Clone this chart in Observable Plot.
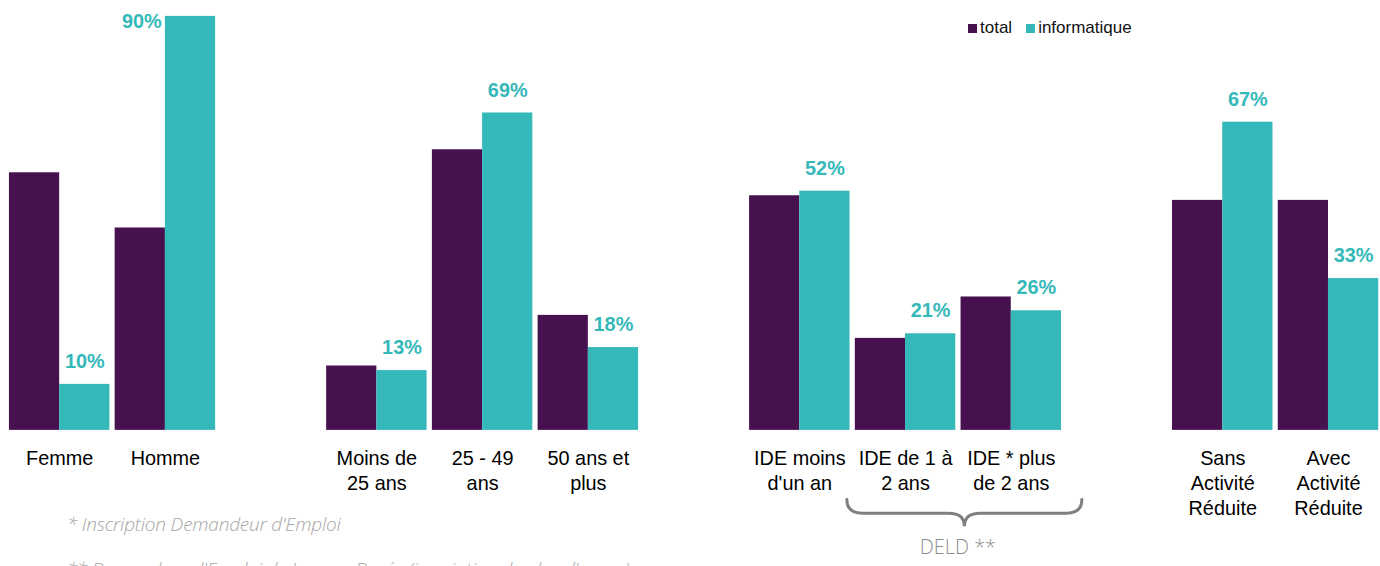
<!DOCTYPE html>
<html>
<head>
<meta charset="utf-8">
<script src="https://cdn.jsdelivr.net/npm/d3@7"></script>
<script src="https://cdn.jsdelivr.net/npm/@observablehq/plot@0.6"></script>
<style>
  html, body { margin: 0; padding: 0; background: #fff; overflow: hidden; }
  #wrap { position: relative; width: 1380px; height: 566px; overflow: hidden; font-family: "Liberation Sans", Arial, sans-serif; }
  #wrap svg.chart { position: absolute; left: 0; top: 0; }
  .legend { position: absolute; left: 968px; top: 18px; font-size: 17px; color: #111; display: flex; align-items: center; white-space: nowrap; }
  .legend .sw { display: inline-block; width: 9px; height: 9px; margin-right: 3px; }
  .legend .item { display: flex; align-items: center; margin-right: 14px; }
  .foot { position: absolute; left: 67px; font-family: "Open Sans", sans-serif; font-style: italic; font-weight: 300; font-size: 19px; color: #a6a6a6; white-space: nowrap; letter-spacing: -0.2px; }
</style>
</head>
<body>
<div id="wrap"></div>
<script>
// ---- data ----
const categories = ["Femme", "Homme", "Moins de\n25 ans", "25 - 49\nans", "50 ans et\nplus",
  "IDE moins\nd'un an", "IDE de 1 à\n2 ans", "IDE * plus\nde 2 ans",
  "Sans\nActivité\nRéduite", "Avec\nActivité\nRéduite"];
const groupsOf = [1, 1, 2, 2, 2, 3, 3, 3, 4, 4];
const totalValues = [56, 44, 14, 61, 25, 51, 20, 29, 50, 50];
const infoValues = [10, 90, 13, 69, 18, 52, 21, 26, 67, 33];
const seriesNames = ["total", "informatique"];
const seriesColors = ["#46114e", "#35b8b9"];
const footnotes = ["* Inscription Demandeur d'Emploi",
  "** Demandeur d'Emploi de Longue Durée (inscription de plus d'un an)"];
const braceLabel = "DELD **";
const braceCats = ["IDE de 1 à\n2 ans", "IDE * plus\nde 2 ans"];

// slots: categories with an empty slot between groups
const slots = [];
categories.forEach((c, i) => {
  if (i > 0 && groupsOf[i] !== groupsOf[i - 1]) slots.push("gap" + groupsOf[i]);
  slots.push(c);
});

const rows = [];
categories.forEach((c, i) => {
  rows.push({cat: c, series: "total", value: totalValues[i]});
  rows.push({cat: c, series: "informatique", value: infoValues[i]});
});
const infoRows = rows.filter(d => d.series === "informatique");
const maxInfo = d3.max(infoValues);

const plot = Plot.plot({
  width: 1390,
  height: 566,
  marginLeft: 9,
  marginRight: 0,
  marginTop: 16,
  marginBottom: 133,
  style: {fontFamily: "'Liberation Sans', Arial, sans-serif", background: "transparent"},
  fx: {domain: slots, range: [9, 1388.2], paddingInner: 0.05, paddingOuter: 0, round: false, label: null},
  x: {domain: seriesNames, padding: 0, round: false, axis: null},
  y: {domain: [0, 90], axis: null},
  color: {domain: seriesNames, range: seriesColors},
  marks: [
    Plot.barY(rows, {fx: "cat", x: "series", y: "value", fill: "series", inset: 0}),
    Plot.text(infoRows.filter(d => d.value < maxInfo), {
      fx: "cat", x: "series", y: "value", text: d => d.value + "%",
      dy: -23, fill: "#35b8b9", fontWeight: "bold", fontSize: 20
    }),
    Plot.text(infoRows.filter(d => d.value === maxInfo), {
      fx: "cat", x: "series", y: "value", text: d => d.value + "%",
      dx: -29, dy: 5, textAnchor: "end", fill: "#35b8b9", fontWeight: "bold", fontSize: 20
    }),
    Plot.axisFx({
      anchor: "bottom", tickSize: 0, tickPadding: 17, label: null,
      tickFormat: d => d.startsWith("gap") ? "" : d,
      fontSize: 20, lineHeight: 1.25, fill: "#000"
    })
  ]
});
plot.classList.add("chart");
const wrap = document.getElementById("wrap");
wrap.appendChild(plot);

// brace + label under the DELD categories, positioned from the fx scale
const fx = plot.scale("fx");
const bw = fx.bandwidth;
const x0 = fx.apply(braceCats[0]);
const x1 = fx.apply(braceCats[1]) + bw;
const L = x0 - 8, R = x1 + 21, C = (L + R) / 2;
const yTop = 503, yMid = 517, yTip = 530;
const svg = d3.select(plot);
svg.append("path")
  .attr("d", `M${L},${yTop} Q${L},${yMid} ${L + 16},${yMid} H${C - 16} Q${C},${yMid} ${C},${yTip} Q${C},${yMid} ${C + 16},${yMid} H${R - 16} Q${R},${yMid} ${R},${yTop}`)
  .attr("fill", "none").attr("stroke", "#7f7f7f").attr("stroke-width", 3).attr("stroke-linecap", "round");
svg.append("text")
  .attr("x", (x0 + x1) / 2).attr("y", 558)
  .attr("text-anchor", "middle")
  .attr("font-family", "'Open Sans', sans-serif").attr("font-weight", 300)
  .attr("font-size", 20).attr("fill", "#8c8c8c")
  .text(braceLabel);

// legend
const legend = document.createElement("div");
legend.className = "legend";
seriesNames.forEach((s, i) => {
  const it = document.createElement("span");
  it.className = "item";
  const sw = document.createElement("span");
  sw.className = "sw"; sw.style.background = seriesColors[i];
  it.appendChild(sw);
  it.appendChild(document.createTextNode(s));
  legend.appendChild(it);
});
wrap.appendChild(legend);

// footnotes
const footTops = [511, 556];
footnotes.forEach((t, i) => {
  const f = document.createElement("div");
  f.className = "foot";
  f.style.top = footTops[i] + "px";
  f.textContent = t;
  wrap.appendChild(f);
});
</script>
</body>
</html>
